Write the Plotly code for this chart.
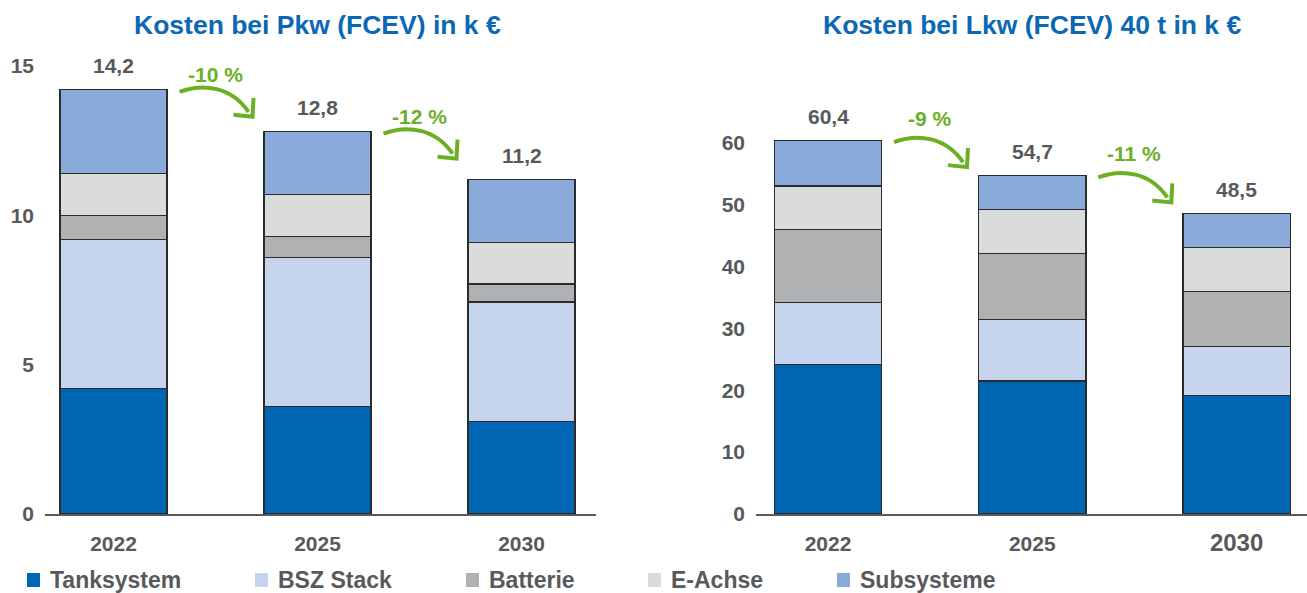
import plotly.graph_objects as go

# ---------------- data ----------------
years = ["2022", "2025", "2030"]
components = ["Tanksystem", "BSZ Stack", "Batterie", "E-Achse", "Subsysteme"]
colors = ["#0066b3", "#c6d4ed", "#b0b1b3", "#dadcdb", "#8aabd9"]

pkw_tanksystem = [4.2, 3.6, 3.1]
pkw_bsz_stack = [5.0, 5.0, 4.0]
pkw_batterie = [0.8, 0.7, 0.6]
pkw_e_achse = [1.4, 1.4, 1.4]
pkw_subsysteme = [2.8, 2.1, 2.1]
pkw_totals = [14.2, 12.8, 11.2]
pkw_total_labels = ["14,2", "12,8", "11,2"]
pkw_change_labels = ["-10 %", "-12 %"]

lkw_tanksystem = [24.2, 21.5, 19.2]
lkw_bsz_stack = [10.0, 9.9, 7.9]
lkw_batterie = [11.8, 10.7, 8.9]
lkw_e_achse = [7.0, 7.1, 7.0]
lkw_subsysteme = [7.4, 5.5, 5.5]
lkw_totals = [60.4, 54.7, 48.5]
lkw_total_labels = ["60,4", "54,7", "48,5"]
lkw_change_labels = ["-9 %", "-11 %"]

titles = ["Kosten bei Pkw (FCEV) in k €", "Kosten bei Lkw (FCEV) 40 t in k €"]

# ---------------- layout constants ----------------
W, H = 1307, 593
FONT = "Liberation Sans, Arial, sans-serif"
GRAY = "#58595b"
GREEN = "#6ab023"
BLUE_T = "#0a68b4"

y_bot_px, y_top_px = 514, 40
plot_h = y_bot_px - y_top_px
ydom = [1 - y_bot_px / H, 1 - y_top_px / H]

panels = [
    dict(xdom_px=(45, 596), x0_px=113.5, step=204.0, px_per_unit=29.87,
         series=[pkw_tanksystem, pkw_bsz_stack, pkw_batterie, pkw_e_achse, pkw_subsysteme],
         totals=pkw_totals, tl=pkw_total_labels, cl=pkw_change_labels,
         tickvals=[0, 5, 10, 15], pct_shift=15, ticktext=years),
    dict(xdom_px=(756, 1307), x0_px=828.0, step=204.3, px_per_unit=6.19,
         series=[lkw_tanksystem, lkw_bsz_stack, lkw_batterie, lkw_e_achse, lkw_subsysteme],
         totals=lkw_totals, tl=lkw_total_labels, cl=lkw_change_labels,
         tickvals=[0, 10, 20, 30, 40, 50, 60], pct_shift=22,
         ticktext=years[:2] + ["<span style='font-size:24px'>" + years[2] + "</span>"]),
]

fig = go.Figure()
shapes = []
annotations = []
xpos = [0, 1, 2]

for k, p in enumerate(panels):
    xa = "x" if k == 0 else "x2"
    ya = "y" if k == 0 else "y2"
    xl, xr = p["xdom_px"]
    xs = p["step"]
    ys = p["px_per_unit"]
    xrange = [-(p["x0_px"] - xl) / xs, 2 + (xr - (p["x0_px"] + 2 * xs)) / xs]
    yrange = [0, plot_h / ys]

    for name, col, vals in zip(components, colors, p["series"]):
        fig.add_trace(go.Bar(
            x=xpos, y=vals, name=name, marker=dict(color=col, line=dict(color="#2b2b2b", width=1.2)),
            width=0.525, xaxis=xa, yaxis=ya, showlegend=False, hoverinfo="y+name"))

    axis_suffix = "" if k == 0 else "2"
    fig.layout["xaxis" + axis_suffix] = dict(
        domain=[xl / W, xr / W], range=xrange, tickvals=xpos,
        ticktext=["<b>%s</b>" % t for t in p["ticktext"]],
        showline=True, linecolor="#5a5a5a", linewidth=2, showgrid=False, zeroline=False,
        ticks="", ticklabelstandoff=10, automargin=False,
        tickfont=dict(family=FONT, size=21, color=GRAY), anchor=ya, fixedrange=True)
    fig.layout["yaxis" + axis_suffix] = dict(
        domain=ydom, range=yrange, tickvals=p["tickvals"],
        ticktext=["<b>%d</b>" % v for v in p["tickvals"]],
        showgrid=False, zeroline=False, automargin=False,
        showline=False, ticks="", ticklabelstandoff=10,
        tickfont=dict(family=FONT, size=21, color=GRAY), anchor=xa, fixedrange=True)

    # totals above bars
    for i, (t, lab) in enumerate(zip(p["totals"], p["tl"])):
        annotations.append(dict(x=i, y=t, xref=xa, yref=ya, text="<b>%s</b>" % lab, showarrow=False,
                                yshift=24, yanchor="middle",
                                font=dict(family=FONT, size=21, color=GRAY)))

    # change arrows and labels
    for i, lab in enumerate(p["cl"]):
        T = p["totals"][i]

        def P(dx, dy, i=i, T=T):
            return "%.5f,%.5f" % (i + dx / xs, T - dy / ys)

        path = "M %s C %s %s %s" % (P(66, 2), P(90, -7), P(118, -3), P(135, 22))
        head = "M %s L %s L %s" % (P(140, 8), P(139, 27), P(120, 25))
        for d in (path, head):
            shapes.append(dict(type="path", path=d, xref=xa, yref=ya,
                               line=dict(color=GREEN, width=4), layer="above"))
        annotations.append(dict(x=i + 0.5, y=T, xref=xa, yref=ya, text="<b>%s</b>" % lab,
                                showarrow=False, yshift=p["pct_shift"], yanchor="middle",
                                font=dict(family=FONT, size=21, color=GREEN)))

    # title
    annotations.append(dict(x=(p["x0_px"] + xs) / W, y=1 - 25 / H, xref="paper", yref="paper",
                            text="<b>%s</b>" % titles[k], showarrow=False, xanchor="center",
                            yanchor="middle", font=dict(family=FONT, size=26.5, color=BLUE_T)))

# legend (manual)
legend_sq_px = [27, 255, 466, 648, 837]
for name, col, sx in zip(components, colors, legend_sq_px):
    shapes.append(dict(type="rect", xref="paper", yref="paper",
                       x0=sx / W, x1=(sx + 13) / W, y0=1 - 587 / H, y1=1 - 573 / H,
                       fillcolor=col, line=dict(width=0)))
    annotations.append(dict(x=(sx + 21) / W, y=1 - 580 / H, xref="paper", yref="paper",
                            text="<b>%s</b>" % name, showarrow=False, xanchor="left",
                            yanchor="middle", font=dict(family=FONT, size=23, color=GRAY)))

fig.update_layout(
    width=W, height=H, barmode="stack", plot_bgcolor="white", paper_bgcolor="white",
    margin=dict(l=0, r=0, t=0, b=0, autoexpand=False), shapes=shapes, annotations=annotations,
    showlegend=False, font=dict(family=FONT))

fig.write_html("out.html", config={"displayModeBar": False},
               post_script="document.body.style.margin='0';document.body.style.overflow='hidden';")
